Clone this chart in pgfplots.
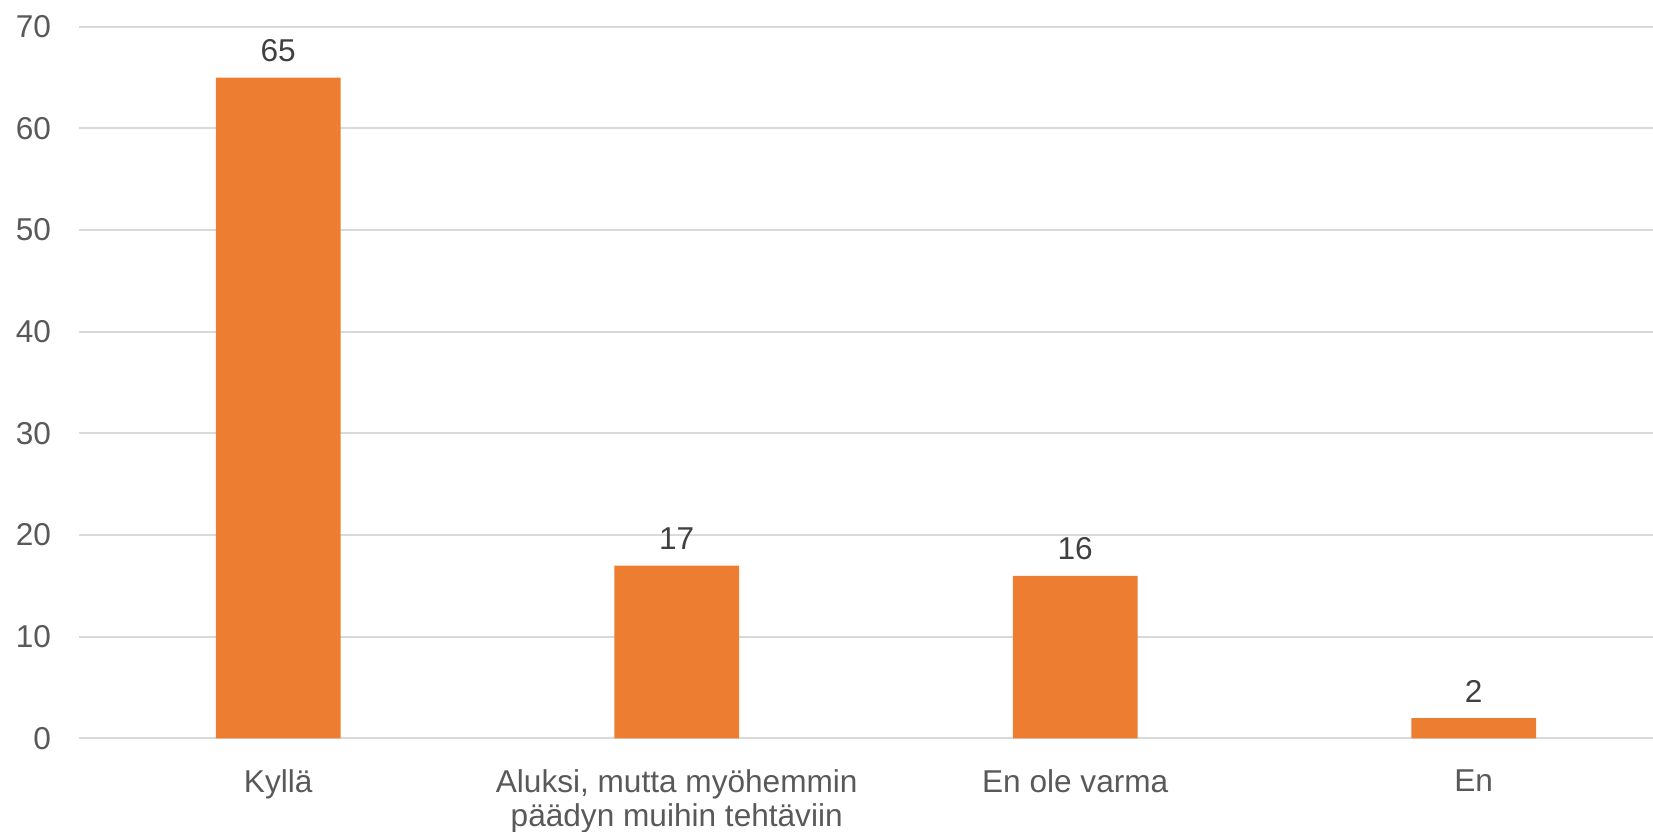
\documentclass[border=0pt]{standalone}
\usepackage{pgfplots}
\pgfplotsset{compat=1.18}
\usepackage{fontspec}
\setmainfont{Liberation Sans}
\definecolor{barorange}{HTML}{ED7D31}
\definecolor{gridgray}{HTML}{D9D9D9}
\definecolor{ticktext}{HTML}{595959}
\definecolor{labeltext}{HTML}{404040}
\begin{document}
\begin{tikzpicture}
\begin{axis}[
  scale only axis,
  width=787pt, height=355.9pt,
  xmin=-0.5, xmax=3.45,
  ymin=0, ymax=70,
  ytick={0,10,...,70},
  xtick={0,1,2,3},
  xticklabels={Kyllä,{Aluksi, mutta myöhemmin\\päädyn muihin tehtäviin},En ole varma,En},
  axis line style={draw=none},
  major tick length=0pt,
  ymajorgrids,
  grid style={gridgray, line width=1pt},
  font=\fontsize{15.8}{17.2}\selectfont,
  /pgf/number format/assume math mode=true,
  yticklabel style={text=ticktext, xshift=-10.5pt},
  xticklabel style={text=ticktext, align=center, anchor=north, yshift=-12pt},
  ybar,
  bar width=62.3pt,
  nodes near coords,
  every node near coord/.append style={text=labeltext, font=\fontsize{15.8}{17.2}\selectfont, yshift=4.5pt},
]
\addplot[fill=barorange, draw=none] coordinates {(0,65) (1,17) (2,16) (3,2)};
\end{axis}
\pgfresetboundingbox
\path (current axis.south west) ++(-39.5pt,-46.75pt) coordinate (bbA);
\path (current axis.north east) ++(0pt,13.35pt) coordinate (bbB);
\path[use as bounding box] (bbA) rectangle (bbB);
\end{tikzpicture}
\end{document}
